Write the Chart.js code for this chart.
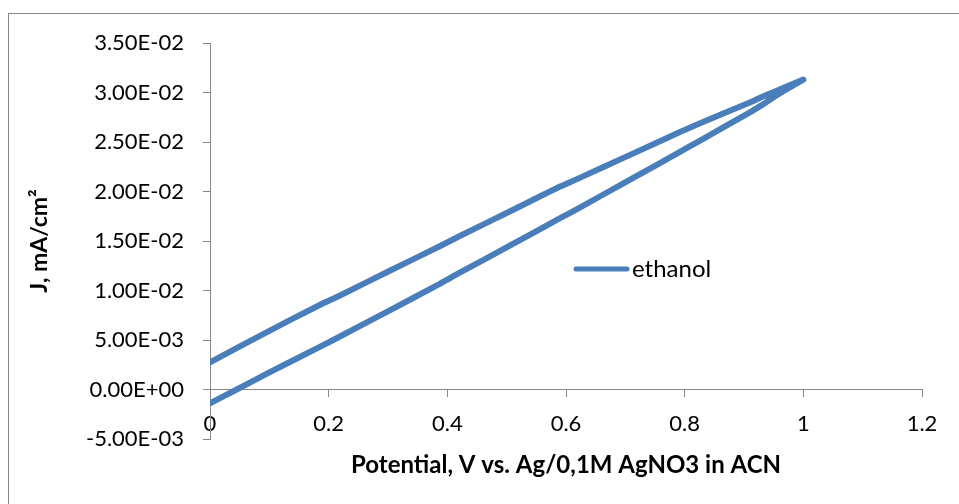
<!DOCTYPE html>
<html>
<head>
<meta charset="utf-8">
<script src="https://cdn.jsdelivr.net/npm/chart.js@4.4.1/dist/chart.umd.min.js"></script>
<style>
  html, body { margin: 0; padding: 0; background: #fff; }
  #wrap { width: 959px; height: 504px; position: relative; }
</style>
</head>
<body>
<div id="wrap"><canvas id="cvChart"></canvas></div>
<script>
// forward sweep (lower branch), 0 -> 1 V
const fwdPotential = [0, 0.045, 0.096, 0.185, 0.219, 0.303, 0.388, 0.421, 0.506, 0.59, 0.624, 0.708, 0.792, 0.826, 0.91, 0.932, 0.96, 1.0];
const fwdCurrent   = [-1.4e-3, 0, 1.6e-3, 4.3e-3, 5.35e-3, 8.0e-3, 10.7e-3, 11.8e-3, 14.55e-3, 17.3e-3, 18.4e-3, 21.2e-3, 24.0e-3, 25.15e-3, 28.0e-3, 28.8e-3, 29.9e-3, 31.3e-3];
// reverse sweep (upper branch), 1 -> 0 V
const revPotential = [1.0, 0.96, 0.932, 0.91, 0.826, 0.792, 0.708, 0.624, 0.59, 0.506, 0.421, 0.388, 0.303, 0.219, 0.185, 0.096, 0];
const revCurrent   = [31.3e-3, 30.3e-3, 29.6e-3, 29.0e-3, 26.9e-3, 26.0e-3, 23.7e-3, 21.4e-3, 20.5e-3, 18.0e-3, 15.5e-3, 14.5e-3, 12.0e-3, 9.5e-3, 8.54e-3, 5.8e-3, 2.75e-3];

const seriesName = 'ethanol';
const xTitle = 'Potential, V vs. Ag/0,1M AgNO3 in ACN';
const yTitle = 'J, mA/cm²';

const LINE = '#4A7EBB';
const AXIS = '#868686';
const FONT = 'Lato, "Open Sans", sans-serif';

const points = fwdPotential.map((x, i) => ({ x, y: fwdCurrent[i] }))
  .concat(revPotential.map((x, i) => ({ x, y: revCurrent[i] })));

function sciLabel(v) {
  v = Math.round(v * 1e7) / 1e7;
  if (v === 0) return '0.00E+00';
  const [m, e] = v.toExponential(2).split('e');
  const sign = e[0] === '-' ? '-' : '+';
  const digits = e.replace(/[+-]/, '').padStart(2, '0');
  return m + 'E' + sign + digits;
}

// outer frame (Excel chart border, only the top-left part is visible)
const framePlugin = {
  id: 'frame',
  beforeDraw(chart) {
    const c = chart.ctx;
    c.save();
    c.strokeStyle = AXIS;
    c.lineWidth = 1;
    c.strokeRect(8.5, 13.5, 1200, 800);
    c.restore();
  },
};

// legend sits inside the plot area, right of centre
const legendPlugin = {
  id: 'inlineLegend',
  afterDraw(chart) {
    const c = chart.ctx;
    const ds = chart.data.datasets[0];
    const y = 269;
    c.save();
    c.strokeStyle = ds.borderColor;
    c.lineWidth = 5;
    c.lineCap = 'round';
    c.beginPath();
    c.moveTo(576, y);
    c.lineTo(627, y);
    c.stroke();
    c.fillStyle = '#000';
    c.font = '24px ' + FONT;
    c.textBaseline = 'middle';
    c.fillText(ds.label, 632, y);
    c.restore();
  },
};

new Chart(document.getElementById('cvChart'), {
  type: 'scatter',
  data: {
    datasets: [{
      label: seriesName,
      data: points,
      showLine: true,
      borderColor: LINE,
      backgroundColor: LINE,
      borderWidth: 6,
      borderCapStyle: 'round',
      borderJoinStyle: 'round',
      pointRadius: 0,
      tension: 0.3,
    }],
  },
  options: {
    responsive: true, maintainAspectRatio: false, animation: false,
    layout: { padding: { left: 0, right: 37, top: 43, bottom: 65 } },
    plugins: { legend: { display: false }, tooltip: { enabled: false } },
    scales: {
      x: {
        type: 'linear', min: 0, max: 1.2,
        position: { y: 0 },
        ticks: { stepSize: 0.2, color: '#000', padding: 14, font: { family: FONT, size: 22 }, maxRotation: 0,
                 callback: v => String(Math.round(v * 10) / 10) },
        grid: { drawOnChartArea: false, drawTicks: true, tickLength: 7, color: AXIS },
        border: { color: AXIS },
        title: { display: true, text: xTitle, color: '#000', font: { family: FONT, size: 24, weight: 'bold' }, padding: { top: 0, bottom: 0 } },
      },
      y: {
        type: 'linear', min: -0.005, max: 0.035,
        ticks: { stepSize: 0.005, color: '#000', padding: 19, font: { family: FONT, size: 22 }, callback: sciLabel },
        grid: { drawOnChartArea: false, drawTicks: true, tickLength: 7, color: AXIS },
        border: { color: AXIS },
        title: { display: true, text: yTitle, color: '#000', font: { family: FONT, size: 23, weight: 'bold' }, padding: { top: 26, bottom: 0 } },
        afterFit: s => { s.width = 210; },
      },
    },
  },
  plugins: [framePlugin, legendPlugin],
});
</script>
</body>
</html>
